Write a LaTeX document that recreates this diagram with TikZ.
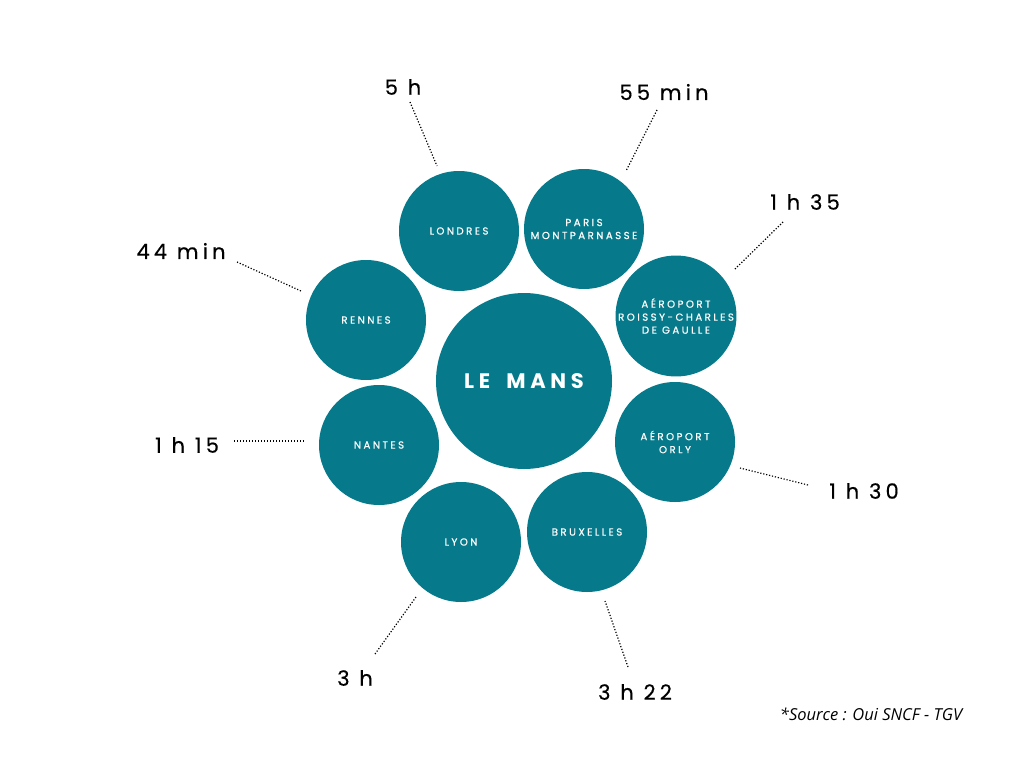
\documentclass[tikz,border=0pt]{standalone}
\usepackage{fontspec}
\setmainfont{Poppins}
\newfontfamily\labfont[LetterSpace=20,FakeBold=0.4]{Poppins}
\newfontfamily\circfont[LetterSpace=24,FakeBold=0.6]{Poppins}
\newfontfamily\bigfont[LetterSpace=22,WordSpace=1.8]{Poppins}
\newfontfamily\srcfont{Open Sans}
\usetikzlibrary{calc}
\definecolor{teal}{RGB}{6,122,138}
\tikzset{
  city/.style={circle, fill=teal, minimum size=120pt, inner sep=0pt, text=white, align=center,
    font=\circfont\fontsize{10.2}{13}\selectfont},
  hub/.style={circle, fill=teal, minimum size=176pt, inner sep=0pt, text=white,
    font=\bigfont\bfseries\fontsize{21}{25}\selectfont},
  timelab/.style={inner sep=0pt, text=black, font=\labfont\fontsize{21}{25}\selectfont},
  leader/.style={line width=1.2pt, dash pattern=on 1.2pt off 1.8pt}
}
\begin{document}
\begin{tikzpicture}[x=1pt,y=-1pt]
\useasboundingbox (0,0) rectangle (1024,768);
\node[hub] (mans) at (524,381) {LE MANS};
\node[city] (lon) at (459,231) {LONDRES};
\node[city] (par) at (584,229) {PARIS\\MONTPARNASSE};
\node[city] (cdg) at (676,316) {AÉROPORT\\ROISSY-CHARLES\\DE GAULLE};
\node[city] (ren) at (366,320) {RENNES};
\node[city] (nan) at (379,445) {NANTES};
\node[city] (orl) at (675,442) {AÉROPORT\\ORLY};
\node[city] (lyo) at (461,542) {LYON};
\node[city] (bru) at (587,532) {BRUXELLES};

\node[timelab] (t1) at (403,87) {5 h};
\node[timelab] (t2) at (664,92) {55 min};
\node[timelab] (t3) at (805,202) {1 h 35};
\node[timelab] (t4) at (181,251) {44 min};
\node[timelab] (t5) at (187,445) {1 h 15};
\node[timelab] (t6) at (864,491) {1 h 30};
\node[timelab] (t7) at (355,678) {3 h};
\node[timelab] (t8) at (635,692) {3 h 22};

\draw[leader] ($(t1)+(7,15)$) -- ($(lon)+(-22,-65)$);
\draw[leader] ($(t2)+(-7,18)$) -- ($(par)+(42,-58)$);
\draw[leader] ($(t3)+(-22,20)$) -- ($(cdg)+(58,-46)$);
\draw[leader] ($(t4)+(56,11)$) -- ($(ren)+(-65,-29)$);
\draw[leader] ($(t5)+(47,-4)$) -- ($(nan)+(-75,-4)$);
\draw[leader] ($(t6)+(-56,-6)$) -- ($(orl)+(65,26)$);
\draw[leader] ($(t7)+(20,-24)$) -- ($(lyo)+(-45,55)$);
\draw[leader] ($(t8)+(-7,-25)$) -- ($(bru)+(18,69)$);

\node[inner sep=0pt, font=\srcfont\itshape\fontsize{16.5}{19}\selectfont] (src) at (871,714) {*Source : Oui SNCF - TGV};
\end{tikzpicture}
\end{document}
